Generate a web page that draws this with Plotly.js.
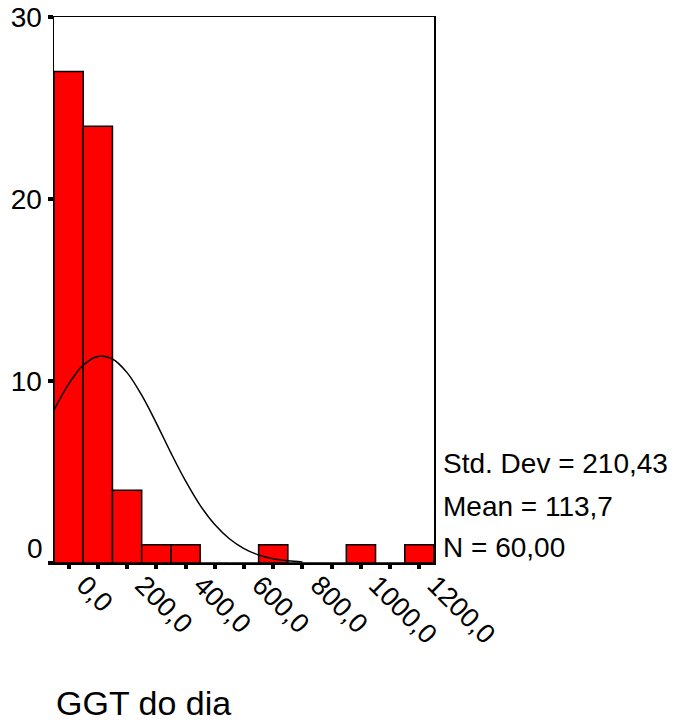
<!DOCTYPE html>
<html>
<head>
<meta charset="utf-8">
<script src="https://cdn.plot.ly/plotly-3.0.1.min.js"></script>
<style>html,body{margin:0;padding:0;background:#fff;}</style>
</head>
<body>
<div id="chart" style="width:674px;height:728px;"></div>
<script>
// Histogram bins (centres) and counts
const binCenters = [0, 100, 200, 300, 400, 500, 600, 700, 800, 900, 1000, 1100, 1200];
const counts     = [27, 24, 4, 1, 1, 0, 0, 1, 0, 0, 1, 0, 1];
// Tick labels (every other bin centre labelled)
const tickLabels = ["0,0", "", "200,0", "", "400,0", "", "600,0", "", "800,0", "", "1000,0", "", "1200,0"];
const yTickVals = [0, 10, 20, 30];
const yTickText = ["", "10", "20", "30"];   // "0" is drawn slightly raised, as in the original
// Normal curve
const curveX = [-50, 0, 50, 100, 150, 200, 250, 300, 350, 400, 450, 500, 550, 600, 650, 700, 750, 800];
const curveY = [8.40, 9.83, 10.87, 11.35, 11.21, 10.46, 9.22, 7.69, 6.05, 4.51, 3.17, 2.11, 1.33, 0.79, 0.44, 0.23, 0.12, 0.06];
// Statistics text
const statsLines = ["Std. Dev = 210,43", "Mean = 113,7", "N = 60,00"];
const axisTitle = "GGT do dia";

const FONT = "Liberation Sans, Arial, sans-serif";
const X_RANGE = [-50, 1250];

const traces = [
  {
    type: "bar",
    x: binCenters,
    y: counts,
    width: 100,
    marker: {color: "#ff0000", line: {color: "#000", width: 1.5}},
    hoverinfo: "skip"
  },
  {
    type: "scatter",
    mode: "lines",
    x: curveX,
    y: curveY,
    line: {color: "#000", width: 1.5, shape: "spline"},
    hoverinfo: "skip"
  }
];

const statYs = [0.183, 0.1026, 0.0275];
const annotations = statsLines.map((t, i) => ({
  text: t, xref: "paper", yref: "paper", x: 1, y: statYs[i],
  xanchor: "left", yanchor: "middle", xshift: 7, showarrow: false,
  font: {family: FONT, size: 28, color: "#000"}
}));
annotations.push({
  text: axisTitle, xref: "paper", yref: "paper", x: 0, y: -0.2564,
  xanchor: "left", yanchor: "middle", xshift: 0, showarrow: false,
  font: {family: FONT, size: 34, color: "#000"}
});
annotations.push({
  text: "0", xref: "paper", yref: "y", x: 0, y: yTickVals[0],
  xanchor: "right", yanchor: "middle", xshift: -9, yshift: 15, showarrow: false,
  font: {family: FONT, size: 28, color: "#000"}
});

const layout = {
  width: 674, height: 728,
  margin: {l: 54, r: 240, t: 17, b: 165},
  paper_bgcolor: "#fff", plot_bgcolor: "#fff",
  showlegend: false,
  bargap: 0,
  xaxis: {
    range: X_RANGE,
    tickvals: binCenters,
    showticklabels: false,
    ticks: "outside", ticklen: 4, tickwidth: 4, tickcolor: "#000",
    showgrid: false, zeroline: false,
    showline: true, linecolor: "#000", linewidth: 1.5, mirror: true
  },
  xaxis2: {
    overlaying: "x", anchor: "y", side: "bottom",
    range: X_RANGE,
    tickvals: binCenters,
    ticktext: tickLabels,
    tickangle: 45,
    ticks: "", ticklabelshift: 16,
    showgrid: false, zeroline: false, showline: false,
    tickfont: {family: FONT, size: 27, color: "#000"}
  },
  yaxis: {
    range: [0, 30],
    tickvals: yTickVals,
    ticktext: yTickText,
    ticks: "outside", ticklen: 5, tickwidth: 4, tickcolor: "#000",
    showgrid: false, zeroline: false,
    showline: true, linecolor: "#000", linewidth: 1.5, mirror: true,
    tickfont: {family: FONT, size: 28, color: "#000"}
  },
  annotations: annotations
};

// invisible helper trace so xaxis2 is drawn with its labels
traces.push({type: "scatter", mode: "none", x: X_RANGE, y: [0, 0], xaxis: "x2", yaxis: "y", hoverinfo: "skip"});

Plotly.newPlot("chart", traces, layout, {displayModeBar: false, staticPlot: true});
</script>
</body>
</html>
